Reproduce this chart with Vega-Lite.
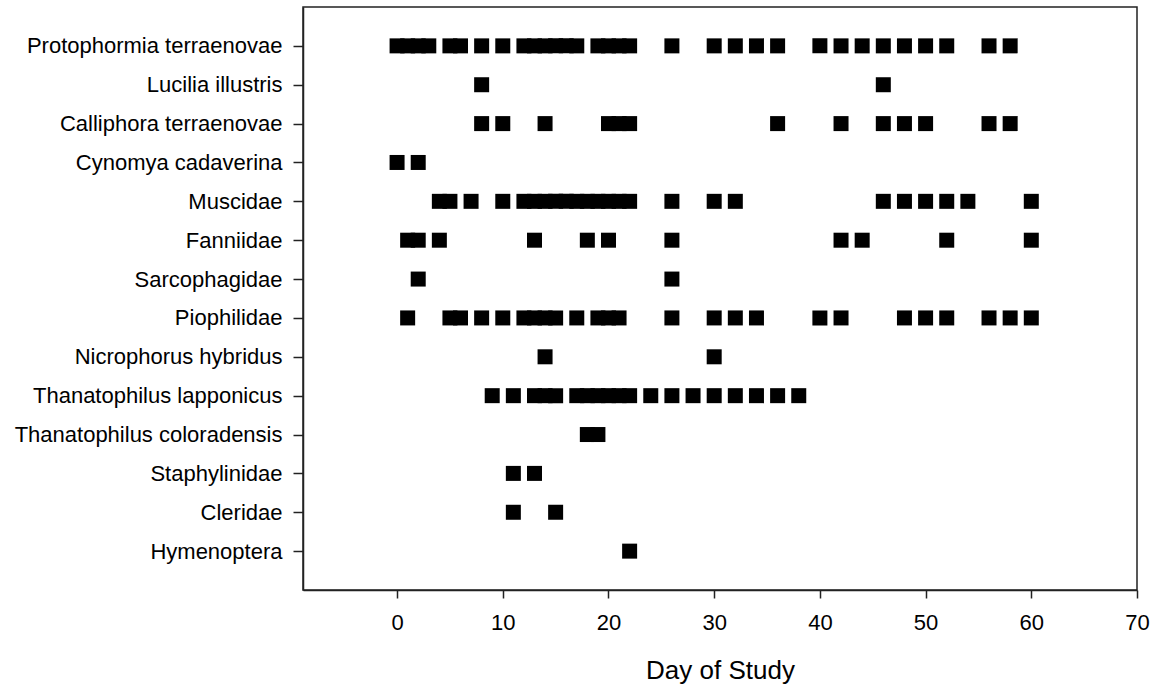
{
  "$schema": "https://vega.github.io/schema/vega-lite/v6.json",
  "autosize": "none",
  "width": 834,
  "height": 583,
  "padding": {"left": 303, "top": 7, "right": 24, "bottom": 99},
  "background": "white",
  "config": {
    "view": {"stroke": "#222222", "strokeWidth": 1.5},
    "font": "Liberation Sans",
    "axis": {"grid": false, "domainColor": "#222222", "domainWidth": 1.5, "tickColor": "#222222", "tickWidth": 1.5, "labelColor": "black", "titleColor": "black", "labelFont": "Liberation Sans", "titleFont": "Liberation Sans"}
  },
  "data": {"values": [
    {"taxon": "Protophormia terraenovae", "day": 0},
    {"taxon": "Protophormia terraenovae", "day": 1},
    {"taxon": "Protophormia terraenovae", "day": 2},
    {"taxon": "Protophormia terraenovae", "day": 3},
    {"taxon": "Protophormia terraenovae", "day": 5},
    {"taxon": "Protophormia terraenovae", "day": 6},
    {"taxon": "Protophormia terraenovae", "day": 8},
    {"taxon": "Protophormia terraenovae", "day": 10},
    {"taxon": "Protophormia terraenovae", "day": 12},
    {"taxon": "Protophormia terraenovae", "day": 13},
    {"taxon": "Protophormia terraenovae", "day": 14},
    {"taxon": "Protophormia terraenovae", "day": 15},
    {"taxon": "Protophormia terraenovae", "day": 16},
    {"taxon": "Protophormia terraenovae", "day": 17},
    {"taxon": "Protophormia terraenovae", "day": 19},
    {"taxon": "Protophormia terraenovae", "day": 20},
    {"taxon": "Protophormia terraenovae", "day": 21},
    {"taxon": "Protophormia terraenovae", "day": 22},
    {"taxon": "Protophormia terraenovae", "day": 26},
    {"taxon": "Protophormia terraenovae", "day": 30},
    {"taxon": "Protophormia terraenovae", "day": 32},
    {"taxon": "Protophormia terraenovae", "day": 34},
    {"taxon": "Protophormia terraenovae", "day": 36},
    {"taxon": "Protophormia terraenovae", "day": 40},
    {"taxon": "Protophormia terraenovae", "day": 42},
    {"taxon": "Protophormia terraenovae", "day": 44},
    {"taxon": "Protophormia terraenovae", "day": 46},
    {"taxon": "Protophormia terraenovae", "day": 48},
    {"taxon": "Protophormia terraenovae", "day": 50},
    {"taxon": "Protophormia terraenovae", "day": 52},
    {"taxon": "Protophormia terraenovae", "day": 56},
    {"taxon": "Protophormia terraenovae", "day": 58},
    {"taxon": "Lucilia illustris", "day": 8},
    {"taxon": "Lucilia illustris", "day": 46},
    {"taxon": "Calliphora terraenovae", "day": 8},
    {"taxon": "Calliphora terraenovae", "day": 10},
    {"taxon": "Calliphora terraenovae", "day": 14},
    {"taxon": "Calliphora terraenovae", "day": 20},
    {"taxon": "Calliphora terraenovae", "day": 21},
    {"taxon": "Calliphora terraenovae", "day": 22},
    {"taxon": "Calliphora terraenovae", "day": 36},
    {"taxon": "Calliphora terraenovae", "day": 42},
    {"taxon": "Calliphora terraenovae", "day": 46},
    {"taxon": "Calliphora terraenovae", "day": 48},
    {"taxon": "Calliphora terraenovae", "day": 50},
    {"taxon": "Calliphora terraenovae", "day": 56},
    {"taxon": "Calliphora terraenovae", "day": 58},
    {"taxon": "Cynomya cadaverina", "day": 0},
    {"taxon": "Cynomya cadaverina", "day": 2},
    {"taxon": "Muscidae", "day": 4},
    {"taxon": "Muscidae", "day": 5},
    {"taxon": "Muscidae", "day": 7},
    {"taxon": "Muscidae", "day": 10},
    {"taxon": "Muscidae", "day": 12},
    {"taxon": "Muscidae", "day": 13},
    {"taxon": "Muscidae", "day": 14},
    {"taxon": "Muscidae", "day": 15},
    {"taxon": "Muscidae", "day": 16},
    {"taxon": "Muscidae", "day": 17},
    {"taxon": "Muscidae", "day": 18},
    {"taxon": "Muscidae", "day": 19},
    {"taxon": "Muscidae", "day": 20},
    {"taxon": "Muscidae", "day": 21},
    {"taxon": "Muscidae", "day": 22},
    {"taxon": "Muscidae", "day": 26},
    {"taxon": "Muscidae", "day": 30},
    {"taxon": "Muscidae", "day": 32},
    {"taxon": "Muscidae", "day": 46},
    {"taxon": "Muscidae", "day": 48},
    {"taxon": "Muscidae", "day": 50},
    {"taxon": "Muscidae", "day": 52},
    {"taxon": "Muscidae", "day": 54},
    {"taxon": "Muscidae", "day": 60},
    {"taxon": "Fanniidae", "day": 1},
    {"taxon": "Fanniidae", "day": 2},
    {"taxon": "Fanniidae", "day": 4},
    {"taxon": "Fanniidae", "day": 13},
    {"taxon": "Fanniidae", "day": 18},
    {"taxon": "Fanniidae", "day": 20},
    {"taxon": "Fanniidae", "day": 26},
    {"taxon": "Fanniidae", "day": 42},
    {"taxon": "Fanniidae", "day": 44},
    {"taxon": "Fanniidae", "day": 52},
    {"taxon": "Fanniidae", "day": 60},
    {"taxon": "Sarcophagidae", "day": 2},
    {"taxon": "Sarcophagidae", "day": 26},
    {"taxon": "Piophilidae", "day": 1},
    {"taxon": "Piophilidae", "day": 5},
    {"taxon": "Piophilidae", "day": 6},
    {"taxon": "Piophilidae", "day": 8},
    {"taxon": "Piophilidae", "day": 10},
    {"taxon": "Piophilidae", "day": 12},
    {"taxon": "Piophilidae", "day": 13},
    {"taxon": "Piophilidae", "day": 14},
    {"taxon": "Piophilidae", "day": 15},
    {"taxon": "Piophilidae", "day": 17},
    {"taxon": "Piophilidae", "day": 19},
    {"taxon": "Piophilidae", "day": 20},
    {"taxon": "Piophilidae", "day": 21},
    {"taxon": "Piophilidae", "day": 26},
    {"taxon": "Piophilidae", "day": 30},
    {"taxon": "Piophilidae", "day": 32},
    {"taxon": "Piophilidae", "day": 34},
    {"taxon": "Piophilidae", "day": 40},
    {"taxon": "Piophilidae", "day": 42},
    {"taxon": "Piophilidae", "day": 48},
    {"taxon": "Piophilidae", "day": 50},
    {"taxon": "Piophilidae", "day": 52},
    {"taxon": "Piophilidae", "day": 56},
    {"taxon": "Piophilidae", "day": 58},
    {"taxon": "Piophilidae", "day": 60},
    {"taxon": "Nicrophorus hybridus", "day": 14},
    {"taxon": "Nicrophorus hybridus", "day": 30},
    {"taxon": "Thanatophilus lapponicus", "day": 9},
    {"taxon": "Thanatophilus lapponicus", "day": 11},
    {"taxon": "Thanatophilus lapponicus", "day": 13},
    {"taxon": "Thanatophilus lapponicus", "day": 14},
    {"taxon": "Thanatophilus lapponicus", "day": 15},
    {"taxon": "Thanatophilus lapponicus", "day": 17},
    {"taxon": "Thanatophilus lapponicus", "day": 18},
    {"taxon": "Thanatophilus lapponicus", "day": 19},
    {"taxon": "Thanatophilus lapponicus", "day": 20},
    {"taxon": "Thanatophilus lapponicus", "day": 21},
    {"taxon": "Thanatophilus lapponicus", "day": 22},
    {"taxon": "Thanatophilus lapponicus", "day": 24},
    {"taxon": "Thanatophilus lapponicus", "day": 26},
    {"taxon": "Thanatophilus lapponicus", "day": 28},
    {"taxon": "Thanatophilus lapponicus", "day": 30},
    {"taxon": "Thanatophilus lapponicus", "day": 32},
    {"taxon": "Thanatophilus lapponicus", "day": 34},
    {"taxon": "Thanatophilus lapponicus", "day": 36},
    {"taxon": "Thanatophilus lapponicus", "day": 38},
    {"taxon": "Thanatophilus coloradensis", "day": 18},
    {"taxon": "Thanatophilus coloradensis", "day": 19},
    {"taxon": "Staphylinidae", "day": 11},
    {"taxon": "Staphylinidae", "day": 13},
    {"taxon": "Cleridae", "day": 11},
    {"taxon": "Cleridae", "day": 15},
    {"taxon": "Hymenoptera", "day": 22}
  ]},
  "mark": {"type": "tick", "orient": "vertical", "thickness": 15, "size": 15, "color": "black", "opacity": 1},
  "encoding": {
    "x": {
      "field": "day", "type": "quantitative",
      "scale": {"domain": [-8.9, 70], "nice": false, "zero": false},
      "axis": {"values": [0, 10, 20, 30, 40, 50, 60, 70], "title": "Day of Study", "titleFontSize": 26, "titleFontWeight": "normal", "titlePadding": 24, "labelFontSize": 22, "tickSize": 8, "labelPadding": 14, "labelFlush": false}
    },
    "y": {
      "field": "taxon", "type": "nominal",
      "sort": ["Protophormia terraenovae", "Lucilia illustris", "Calliphora terraenovae", "Cynomya cadaverina", "Muscidae", "Fanniidae", "Sarcophagidae", "Piophilidae", "Nicrophorus hybridus", "Thanatophilus lapponicus", "Thanatophilus coloradensis", "Staphylinidae", "Cleridae", "Hymenoptera"],
      "scale": {"type": "point", "padding": 1},
      "axis": {"title": null, "labelFontSize": 22, "tickSize": 10, "labelPadding": 11, "labelLimit": 400}
    }
  }
}
